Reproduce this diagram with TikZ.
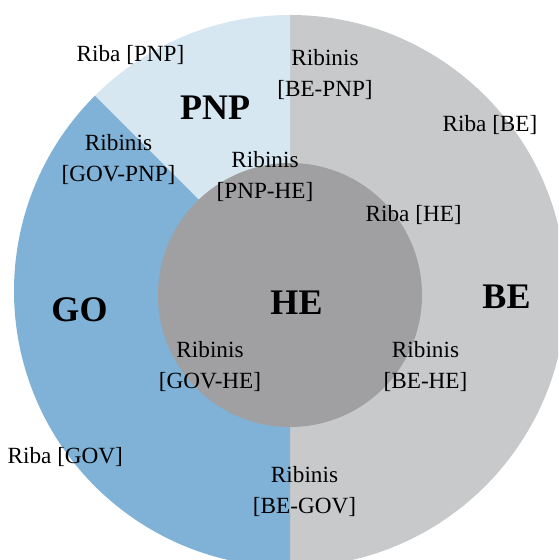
\documentclass[tikz,border=0pt]{standalone}
\usepackage{fontspec}
\setmainfont{Liberation Serif}
\usetikzlibrary{calc}
\definecolor{pnpcol}{RGB}{215,231,242}
\definecolor{govcol}{RGB}{127,178,214}
\definecolor{becol}{RGB}{200,201,203}
\definecolor{hecol}{RGB}{160,160,162}
\begin{document}
\begin{tikzpicture}[x=0.75pt,y=0.75pt,
  lbl/.style={anchor=base,align=center,inner sep=0pt,font=\fontsize{17.4}{23.3}\selectfont},
  big/.style={anchor=base,inner sep=0pt,font=\fontsize{27}{30}\selectfont\bfseries}]
% Page is the size of the reference, the ring is cut by it
\clip (0,0) rectangle (558,560);
% Centre of the outer ring (o) and of the inner disc (h)
\coordinate (o) at (290,269);
\coordinate (h) at (290,265);
% Outer ring: BE right half, PNP and GO on the left
\fill[becol] (o) -- ++(90:276) arc[start angle=90,end angle=-90,radius=276] -- cycle;
\fill[pnpcol] (o) -- ++(90:276) arc[start angle=90,end angle=135,radius=276] -- cycle;
\fill[govcol] (o) -- ++(135:276) arc[start angle=135,end angle=270,radius=276] -- cycle;
% Inner disc for HE
\fill[hecol] (h) circle[radius=132];
% Sector names
\node[big] (pnp) at (215,440) {PNP};
\node[big] (go) at (79.5,238.3) {GO};
\node[big] (he) at (296.5,245) {HE};
\node[big] (be) at (506.5,251.7) {BE};
% Single groups
\node[lbl] (ribapnp) at (130.5,498) {Riba [PNP]};
\node[lbl] (ribabe) at (490,428.3) {Riba [BE]};
\node[lbl] (ribahe) at (413.7,338.3) {Riba [HE]};
\node[lbl] (ribagov) at (65.3,96.7) {Riba [GOV]};
% Borders between groups (base is the second line)
\node[lbl] (bepnp) at (325,463.3) {Ribinis\\{[BE-PNP]}};
\node[lbl] (govpnp) at (118.5,378) {Ribinis\\{[GOV-PNP]}};
\node[lbl] (pnphe) at (265,361.5) {Ribinis\\{[PNP-HE]}};
\node[lbl] (govhe) at (210,171.7) {Ribinis\\{[GOV-HE]}};
\node[lbl] (behe) at (425.5,171.7) {Ribinis\\{[BE-HE]}};
\node[lbl] (begov) at (304.5,46) {Ribinis\\{[BE-GOV]}};
\end{tikzpicture}
\end{document}
